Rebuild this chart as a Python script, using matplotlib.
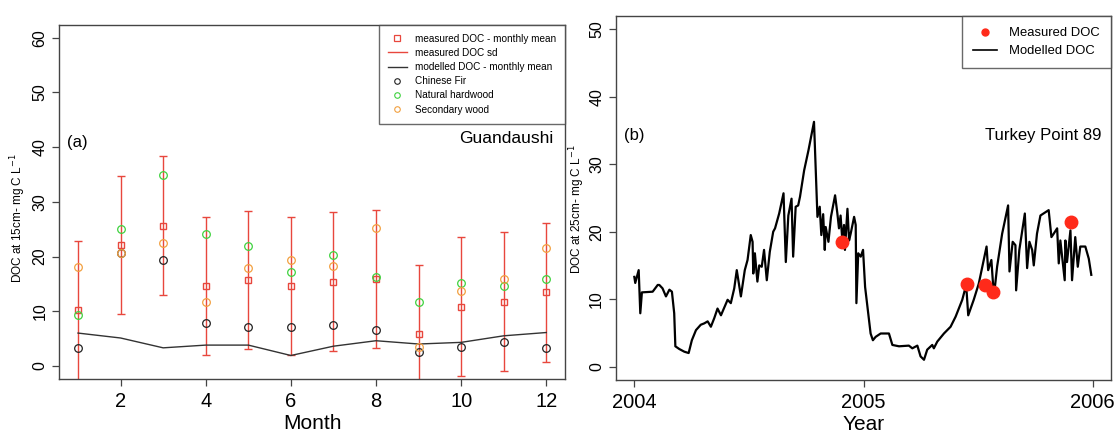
import matplotlib
matplotlib.use("Agg")
import matplotlib.pyplot as plt
from matplotlib.lines import Line2D
import numpy as np

plt.rcParams['font.family'] = ['Liberation Sans', 'DejaVu Sans']

# ---------------- Panel (a) data: Guandaushi ----------------
months = [1, 2, 3, 4, 5, 6, 7, 8, 9, 10, 11, 12]
measured_mean = [10.2, 22.1, 25.6, 14.6, 15.7, 14.6, 15.4, 15.9, 5.8, 10.8, 11.7, 13.5]
measured_sd = [12.7, 12.7, 12.7, 12.7, 12.7, 12.7, 12.7, 12.7, 12.7, 12.7, 12.7, 12.7]
modelled_mean = [6.0, 5.1, 3.3, 3.8, 3.8, 1.9, 3.6, 4.6, 4.0, 4.3, 5.5, 6.1]
chinese_fir = [3.2, 20.7, 19.3, 7.9, 7.2, 7.2, 7.5, 6.5, 2.6, 3.4, 4.4, 3.2]
natural_hardwood = [9.3, 25.1, 35.0, 24.1, 21.9, 17.1, 20.2, 16.2, 11.6, 15.2, 14.7, 15.9]
secondary_wood = [18.1, 20.6, 22.5, 11.6, 17.9, 19.4, 18.2, 25.2, 3.4, 13.7, 15.9, 21.5]

# ---------------- Panel (b) data: Turkey Point 89 ----------------
# time in years since 1 Jan 2004
model_t = [
    0.000, 0.004, 0.019, 0.026, 0.033, 0.080, 0.102, 0.109, 0.123, 0.138,
    0.153, 0.164, 0.174, 0.179, 0.196, 0.218, 0.237, 0.251, 0.269, 0.290,
    0.305, 0.320, 0.334, 0.349, 0.363, 0.378, 0.407, 0.421, 0.436, 0.447,
    0.465, 0.482, 0.494, 0.508, 0.516, 0.519, 0.526, 0.537, 0.545, 0.556,
    0.566, 0.578, 0.591, 0.606, 0.614, 0.632, 0.651, 0.661, 0.672, 0.686,
    0.693, 0.704, 0.715, 0.723, 0.741, 0.760, 0.784, 0.799, 0.809, 0.816,
    0.824, 0.831, 0.835, 0.847, 0.858, 0.876, 0.886, 0.893, 0.900, 0.908,
    0.915, 0.919, 0.930, 0.937, 0.944, 0.959, 0.966, 0.969, 0.977, 0.988,
    0.998, 1.007, 1.017, 1.031, 1.041, 1.053, 1.075, 1.111, 1.126, 1.155,
    1.198, 1.213, 1.235, 1.249, 1.264, 1.278, 1.300, 1.307, 1.322, 1.351,
    1.380, 1.402, 1.431, 1.448, 1.457, 1.481, 1.503, 1.537, 1.544, 1.558,
    1.569, 1.583, 1.605, 1.631, 1.637, 1.651, 1.663, 1.666, 1.680, 1.704,
    1.714, 1.724, 1.736, 1.743, 1.757, 1.772, 1.808, 1.820, 1.830, 1.845,
    1.852, 1.859, 1.878, 1.881, 1.888, 1.903, 1.910, 1.924, 1.935, 1.946,
    1.968, 1.983, 1.994,
]
model_doc = [
    13.3, 12.4, 14.3, 7.9, 11.0, 11.1, 12.1, 12.1, 11.6, 10.4,
    11.4, 11.1, 7.9, 3.0, 2.6, 2.2, 2.0, 3.9, 5.4, 6.2,
    6.4, 6.7, 5.9, 7.2, 8.6, 7.6, 9.9, 9.4, 11.6, 14.3,
    10.4, 14.3, 15.8, 19.5, 18.5, 13.8, 16.8, 12.6, 15.0, 14.8,
    17.3, 12.8, 17.0, 20.0, 20.5, 22.7, 25.7, 15.5, 22.4, 24.9,
    16.3, 23.7, 23.9, 25.2, 29.1, 32.1, 36.3, 22.2, 23.7, 19.5,
    22.6, 17.3, 20.7, 18.5, 22.2, 25.4, 22.7, 20.5, 22.4, 18.5,
    21.0, 17.3, 23.4, 18.7, 19.7, 22.2, 21.0, 9.4, 16.8, 16.3,
    17.3, 11.8, 8.9, 4.9, 3.9, 4.4, 4.9, 4.9, 3.2, 3.0,
    3.1, 2.7, 3.1, 1.5, 1.0, 2.5, 3.2, 2.7, 3.7, 4.9,
    5.9, 7.4, 9.9, 12.1, 7.6, 9.9, 12.3, 17.8, 14.3, 15.8,
    10.4, 14.8, 19.7, 23.9, 14.1, 18.5, 18.0, 11.3, 17.3, 22.7,
    14.6, 18.5, 17.3, 15.0, 19.7, 22.4, 23.2, 19.2, 19.7, 20.5,
    15.3, 18.7, 12.8, 18.7, 15.5, 20.2, 12.8, 19.2, 14.8, 17.8,
    17.8, 16.0, 13.6,
]
meas_t = [0.905, 1.452, 1.529, 1.564, 1.906]
meas_doc = [18.4, 12.3, 12.1, 11.0, 21.4]
start_year = 2004

model_year = start_year + np.asarray(model_t)
meas_year = start_year + np.asarray(meas_t)

# ---------------- Styling ----------------
RED_EB = '#e8473d'
RED_PT = '#ff2a1a'
GREEN = '#3fd23f'
ORANGE = '#f2a040'
SPINE = '#444444'

fig = plt.figure(figsize=(11.2, 4.37), dpi=100)
W, H = 1120, 437
ax1 = fig.add_axes([59.3 / W, 1 - 379 / H, (565 - 59.3) / W, (379 - 24.7) / H])
ax2 = fig.add_axes([616 / W, 1 - 380 / H, (1111 - 616) / W, (380 - 16) / H])

for ax in (ax1, ax2):
    for s in ax.spines.values():
        s.set_color(SPINE)
        s.set_linewidth(1.0)
    ax.tick_params(axis='both', colors=SPINE, length=5, width=0.9, labelcolor='black')
    ax.tick_params(axis='x', labelsize=14.5, pad=4.5)
    ax.tick_params(axis='y', labelsize=11.5, pad=3.5)

# ---- Panel (a)
ax1.errorbar(months, measured_mean, yerr=measured_sd, fmt='none', ecolor=RED_EB,
             elinewidth=1.0, capsize=3, capthick=1.0, zorder=2)
ax1.plot(months, modelled_mean, color='#333333', lw=1.0, zorder=3)
ax1.plot(months, measured_mean, ls='none', marker='s', ms=5, mfc='none', mec=RED_EB, mew=1.0, zorder=4)
ax1.plot(months, chinese_fir, ls='none', marker='o', ms=5.5, mfc='none', mec='#222222', mew=0.9, zorder=4)
ax1.plot(months, natural_hardwood, ls='none', marker='o', ms=5.5, mfc='none', mec=GREEN, mew=0.9, zorder=4)
ax1.plot(months, secondary_wood, ls='none', marker='o', ms=5.5, mfc='none', mec=ORANGE, mew=0.9, zorder=4)

ax1.set_xlim(0.56, 12.44)
ax1.set_ylim(-2.4, 62.4)
ax1.set_xticks([2, 4, 6, 8, 10, 12])
ax1.set_yticks([0, 10, 20, 30, 40, 50, 60])
for lab in ax1.get_yticklabels():
    lab.set_rotation(90)
    lab.set_va('center')
ax1.set_xlabel('Month', fontsize=15, labelpad=2)
ax1.set_ylabel('DOC at 15cm- mg C L$^{-1}$', fontsize=8.5)
ax1.yaxis.set_label_coords(-0.062, 0.455)
ax1.text(0.99, 40.8, '(a)', fontsize=12, ha='center', va='center')
ax1.text(12.16, 41.5, 'Guandaushi', fontsize=12.5, ha='right', va='center')

h1 = [
    Line2D([], [], ls='none', marker='s', ms=4, mfc='none', mec=RED_EB, mew=0.9),
    Line2D([], [], color=RED_EB, lw=1.0),
    Line2D([], [], color='#333333', lw=1.0),
    Line2D([], [], ls='none', marker='o', ms=4, mfc='none', mec='#222222', mew=0.8),
    Line2D([], [], ls='none', marker='o', ms=4, mfc='none', mec=GREEN, mew=0.8),
    Line2D([], [], ls='none', marker='o', ms=4, mfc='none', mec=ORANGE, mew=0.8),
]
l1 = ['measured DOC - monthly mean', 'measured DOC sd', 'modelled DOC - monthly mean',
      'Chinese Fir', 'Natural hardwood', 'Secondary wood']
leg1 = ax1.legend(h1, l1, loc='upper right', fontsize=7.2, frameon=True, fancybox=False,
                  borderaxespad=0, handlelength=1.9, handletextpad=0.8, labelspacing=0.42,
                  borderpad=0.9)
leg1.get_frame().set_edgecolor(SPINE)
leg1.get_frame().set_linewidth(1.0)

# ---- Panel (b)
ax2.plot(model_year, model_doc, color='black', lw=1.6, zorder=2)
ax2.plot(meas_year, meas_doc, ls='none', marker='o', ms=9, color=RED_PT, zorder=3)
ax2.set_xlim(2003.92, 2006.08)
ax2.set_ylim(-2, 52)
ax2.set_xticks([2004, 2005, 2006])
ax2.set_xticklabels(['2004', '2005', '2006'])
ax2.set_yticks([0, 10, 20, 30, 40, 50])
for lab in ax2.get_yticklabels():
    lab.set_rotation(90)
    lab.set_va('center')
ax2.set_xlabel('Year', fontsize=15, labelpad=2)
ax2.set_ylabel('DOC at 25cm- mg C L$^{-1}$', fontsize=8.5)
ax2.yaxis.set_label_coords(-0.058, 0.47)
ax2.text(2004.0, 34.3, '(b)', fontsize=12, ha='center', va='center')
ax2.text(2006.04, 34.3, 'Turkey Point 89', fontsize=12, ha='right', va='center')

h2 = [Line2D([], [], ls='none', marker='o', ms=5, color=RED_PT),
      Line2D([], [], color='black', lw=1.2)]
leg2 = ax2.legend(h2, ['Measured DOC', 'Modelled DOC'], loc='upper right', fontsize=9.4,
                  frameon=True, fancybox=False, borderaxespad=0, handlelength=1.9,
                  handletextpad=0.9, labelspacing=0.45, borderpad=0.85)
leg2.get_frame().set_edgecolor(SPINE)
leg2.get_frame().set_linewidth(1.0)

fig.savefig('out.png', dpi=100)
